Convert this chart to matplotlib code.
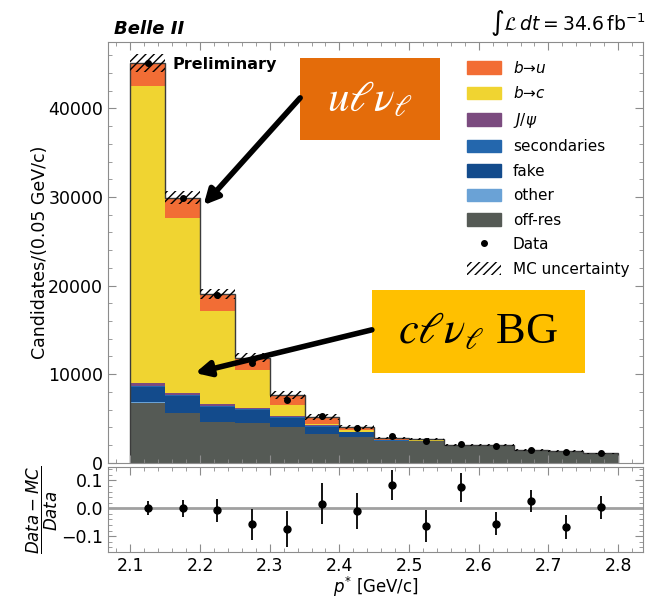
import numpy as np
import matplotlib
matplotlib.use("Agg")
import matplotlib.pyplot as plt
from matplotlib.patches import Patch, Rectangle
from matplotlib.lines import Line2D
from matplotlib.ticker import MultipleLocator

# ------------------------------------------------------------------
# Data
# ------------------------------------------------------------------
edges = np.round(np.arange(2.10, 2.801, 0.05), 3)

off_res = np.array([6730, 5600, 4580, 4470, 4020, 3200, 2890, 2440, 2480, 1940, 1960, 1450, 1340, 1085])
other = np.array([80, 60, 60, 50, 40, 30, 20, 10, 10, 5, 5, 3, 3, 2])
fake = np.array([1770, 1870, 1680, 1430, 1000, 850, 520, 60, 20, 10, 5, 3, 2, 1])
secondaries = np.array([100, 100, 100, 100, 90, 70, 50, 20, 10, 5, 3, 2, 1, 1])
jpsi = np.array([300, 300, 230, 180, 150, 80, 40, 10, 0, 0, 0, 0, 0, 0])
b_to_c = np.array([33500, 19710, 10480, 4210, 1240, 160, 150, 30, 10, 5, 2, 1, 1, 0])
b_to_u = np.array([2620, 2290, 1910, 1430, 1120, 830, 350, 250, 140, 15, 15, 1, 3, 1])

data = np.array([45120, 29930, 18890, 11220, 7130, 5310, 3980, 3075, 2510, 2140, 1886, 1500, 1264, 1093])
mc_unc = np.array([1000, 700, 560, 500, 420, 330, 250, 150, 140, 110, 100, 80, 70, 60])
ratio_err = np.array([0.025, 0.03, 0.042, 0.055, 0.065, 0.072, 0.065, 0.055, 0.058, 0.053, 0.042, 0.04, 0.042, 0.042])

components = [off_res, other, fake, secondaries, jpsi, b_to_c, b_to_u]
labels = ["off-res", "other", "fake", "secondaries", r"$J/\psi$", r"$b$→$c$", r"$b$→$u$"]
colors = ["#555a55", "#6aa2d6", "#134b8c", "#2467ad", "#7b4b7f", "#f0d431", "#f26d35"]

centers = 0.5 * (edges[:-1] + edges[1:])
mc_total = np.sum(components, axis=0)
ratio = (data - mc_total) / data

plt.rcParams["font.size"] = 12.5
frame_col = "#8c8c8c"

fig = plt.figure(figsize=(6.51, 5.98), dpi=100)
ax = fig.add_axes([0.166, 0.226, 0.822, 0.704])
rax = fig.add_axes([0.166, 0.077, 0.822, 0.142], sharex=ax)

# ------------------------------------------------------------------
# Stacked histogram
# ------------------------------------------------------------------
bottom = np.zeros(len(centers))
for vals, lab, col in zip(components, labels, colors):
    ax.stairs(bottom + vals, edges, baseline=bottom, fill=True, color=col, lw=0)
    bottom = bottom + vals
ax.stairs(mc_total, edges, color="#3c3c3c", lw=1.0)
ax.stairs(mc_total + mc_unc, edges, baseline=mc_total - mc_unc, fill=True,
          facecolor="none", edgecolor="black", hatch="////", lw=0)
ax.errorbar(centers, data, yerr=np.sqrt(data), fmt="o", color="black", ms=4, elinewidth=1.2)

ax.set_xlim(2.068, 2.836)
ax.set_ylim(0, 47500)
ax.yaxis.set_major_locator(MultipleLocator(10000))
ax.yaxis.set_minor_locator(MultipleLocator(2000))
ax.xaxis.set_minor_locator(MultipleLocator(0.02))
ax.set_ylabel("Candidates/(0.05 GeV/c)")
ax.tick_params(labelbottom=False)

ax.text(0.12, 0.965, "Preliminary", transform=ax.transAxes, fontweight="bold",
        fontsize=11.5, va="top", ha="left")
fig.text(0.175, 0.937, "Belle II", fontweight="bold", style="italic", fontsize=13, ha="left", va="bottom")
fig.text(0.992, 0.937, r"$\int\mathcal{L}\,dt = 34.6\,\mathrm{fb}^{-1}$", fontsize=13.5, ha="right", va="bottom")

# legend
handles = [Patch(color=c) for c in colors[::-1]]
leg_labels = labels[::-1]
handles.append(Line2D([], [], color="black", marker="o", ms=4, ls="none"))
leg_labels.append("Data")
handles.append(Patch(facecolor="none", edgecolor="black", hatch="////", lw=0))
leg_labels.append("MC uncertainty")
ax.legend(handles, leg_labels, loc="upper right", bbox_to_anchor=(1.0, 0.99), frameon=False,
          fontsize=11, labelspacing=0.62, handlelength=2.2, handleheight=0.9)

# annotation boxes and arrows
ax.add_patch(Rectangle((0.359, 0.767), 0.262, 0.195, transform=ax.transAxes,
                       facecolor="#e46c0a", edgecolor="none", zorder=5))
ax.text(0.49, 0.864, r"$u\ell\nu_\ell$", transform=ax.transAxes, color="white",
        fontsize=31, math_fontfamily="stix", ha="center", va="center", zorder=6)
ax.add_patch(Rectangle((0.493, 0.214), 0.398, 0.197, transform=ax.transAxes,
                       facecolor="#ffc000", edgecolor="none", zorder=5))
ax.text(0.692, 0.31, r"$c\ell\nu_\ell$ BG", transform=ax.transAxes, color="black",
        fontsize=32, family="Liberation Serif", math_fontfamily="stix",
        ha="center", va="center", zorder=6)

arrow_kw = dict(arrowstyle="-|>", lw=4, color="black", mutation_scale=22, shrinkA=0, shrinkB=0)
ax.annotate("", xy=(2.205, 29070), xycoords="data", xytext=(0.359, 0.867),
            textcoords="axes fraction", arrowprops=arrow_kw, zorder=7)
ax.annotate("", xy=(2.193, 10140), xycoords="data", xytext=(0.493, 0.316),
            textcoords="axes fraction", arrowprops=arrow_kw, zorder=7)

# ------------------------------------------------------------------
# Ratio panel
# ------------------------------------------------------------------
rax.axhline(0, color="#a0a0a0", lw=2)
rax.errorbar(centers, ratio, yerr=ratio_err, fmt="o", color="black", ms=5, elinewidth=1.3)
rax.set_ylim(-0.157, 0.148)
rax.yaxis.set_major_locator(MultipleLocator(0.1))
rax.yaxis.set_minor_locator(MultipleLocator(0.02))
rax.set_ylabel(r"$\dfrac{Data-MC}{Data}$", fontsize=12)
rax.set_xlabel(r"$p^{*}$ [GeV/c]", fontsize=12)
ax.yaxis.set_label_coords(-0.11, 0.5)
rax.yaxis.set_label_coords(-0.09, 0.5)
rax.xaxis.set_label_coords(0.5, -0.27)

for a in (ax, rax):
    a.tick_params(which="both", direction="in", top=True, right=True, color=frame_col)
    a.tick_params(which="major", length=6)
    a.tick_params(which="minor", length=3)
    for s in a.spines.values():
        s.set_color(frame_col)

fig.savefig("out.png", dpi=100)
